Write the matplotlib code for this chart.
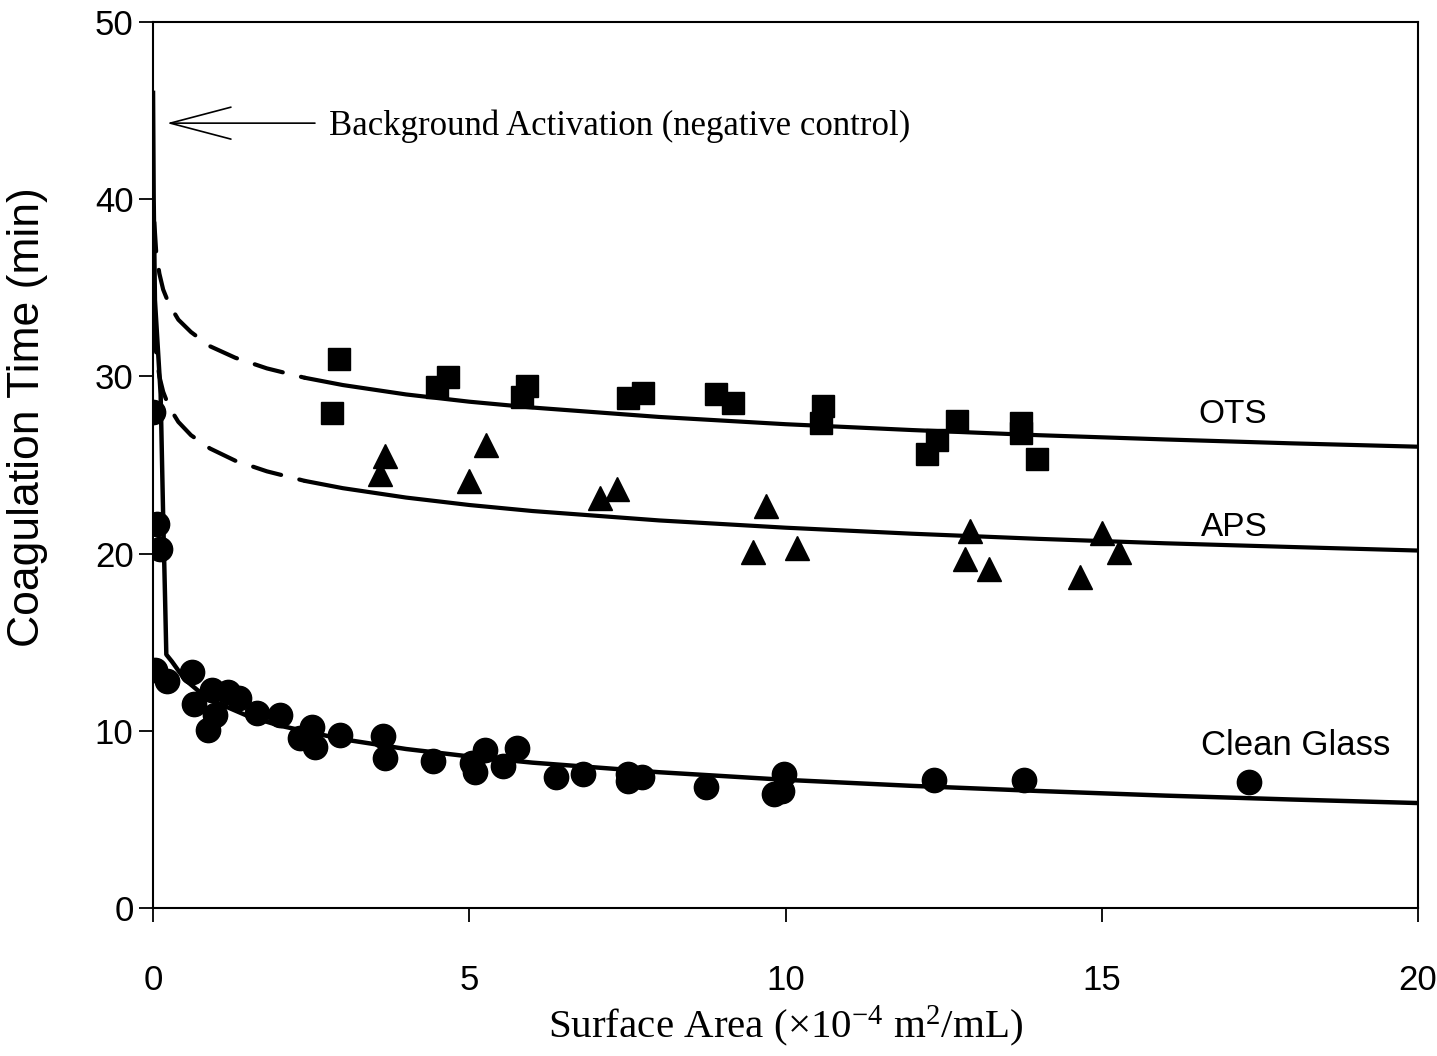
import numpy as np
import matplotlib
matplotlib.use("Agg")
import matplotlib.pyplot as plt

plt.rcParams['font.family'] = ['Liberation Sans', 'DejaVu Sans']
plt.rcParams['mathtext.fontset'] = 'custom'
plt.rcParams['mathtext.rm'] = 'Liberation Serif'
plt.rcParams['mathtext.it'] = 'Liberation Serif:italic'

# ---- data ----
ots_x = [2.94, 2.83, 4.66, 4.49, 5.91, 5.83, 7.74, 7.51, 8.90, 9.17, 10.59, 10.56,
         12.71, 12.39, 12.23, 13.73, 13.73, 13.97]
ots_y = [30.96, 27.95, 29.98, 29.42, 29.46, 28.85, 29.08, 28.77, 29.01, 28.52, 28.35, 27.35,
         27.50, 26.41, 25.62, 27.35, 26.79, 25.32]

aps_x = [3.67, 3.59, 5.26, 4.99, 7.06, 7.33, 9.69, 9.49, 10.18, 12.92, 12.83, 13.21,
         15.01, 15.27, 14.66]
aps_y = [25.52, 24.51, 26.10, 24.12, 23.16, 23.65, 22.71, 20.11, 20.30, 21.28, 19.68, 19.14,
         21.15, 20.11, 18.70]

glass_x = [0.00, 0.06, 0.11, 0.03, 0.22, 0.61, 0.64, 0.93, 0.87, 0.98, 1.19, 1.36, 1.64,
           2.01, 2.32, 2.52, 2.56, 2.96, 3.63, 3.67, 4.42, 5.25, 5.04, 5.09, 5.53, 5.75,
           6.37, 6.79, 7.51, 7.73, 7.51, 8.75, 9.97, 9.82, 9.94, 12.35, 13.77, 17.33]
glass_y = [27.98, 21.66, 20.25, 13.44, 12.78, 13.34, 11.52, 12.31, 10.06, 10.90, 12.16, 11.84,
           11.03, 10.90, 9.59, 10.21, 9.08, 9.77, 9.68, 8.46, 8.27, 8.93, 8.18, 7.70, 7.99,
           9.02, 7.39, 7.57, 7.56, 7.39, 7.14, 6.82, 7.56, 6.45, 6.58, 7.24, 7.24, 7.11]

# fitted curves
ots_fit_x = [0.02, 0.05, 0.1, 0.16, 0.25, 0.4, 0.6, 0.9, 1.3, 1.8, 2.4, 3, 4, 5, 6, 8,
             10, 12, 14, 16, 18, 20]
ots_fit_y = [38.7, 37.0, 35.8, 34.9, 34.1, 33.2, 32.5, 31.7, 31.05, 30.45, 29.92, 29.51,
             28.98, 28.57, 28.24, 27.71, 27.30, 26.97, 26.68, 26.44, 26.22, 26.03]

aps_fit_x = [0.02, 0.05, 0.1, 0.16, 0.25, 0.4, 0.6, 0.9, 1.3, 1.8, 2.4, 3, 4, 5, 6, 8,
             10, 12, 14, 16, 18, 20]
aps_fit_y = [33.0, 31.3, 30.0, 29.13, 28.3, 27.43, 26.68, 25.93, 25.24, 24.64, 24.10, 23.69,
             23.16, 22.74, 22.40, 21.87, 21.46, 21.12, 20.83, 20.58, 20.37, 20.17]

glass_fit_x = [0.0, 0.01, 0.03, 0.12, 0.16, 0.19, 0.21, 0.3, 0.5, 0.75, 1, 1.5, 2, 3, 4,
               5, 6, 8, 10, 12, 14, 16, 18, 20]
glass_fit_y = [46.0, 40.0, 34.3, 29.0, 22.1, 17.5, 14.3, 13.9, 12.9, 12.15, 11.6, 10.83,
               10.29, 9.52, 8.97, 8.55, 8.2, 7.66, 7.23, 6.89, 6.60, 6.34, 6.12, 5.92]

solid_from = 2.4  # fit drawn dashed below this surface area

xticks = [0, 5, 10, 15, 20]
yticks = [0, 10, 20, 30, 40, 50]

# ---- figure ----
fig = plt.figure(figsize=(14.37, 10.56), dpi=100)
ax = fig.add_axes([0.1065, 0.1402, 0.8803, 0.8390])

def split(xs, ys, thr):
    xs = np.asarray(xs); ys = np.asarray(ys)
    m1 = xs <= thr
    m2 = xs >= thr
    return xs[m1], ys[m1], xs[m2], ys[m2]

for fx, fy in [(ots_fit_x, ots_fit_y), (aps_fit_x, aps_fit_y)]:
    dx, dy, sx, sy = split(fx, fy, solid_from)
    ax.plot(dx, dy, color='black', lw=3, ls=(0, (7, 4.5)), solid_capstyle='round',
            dash_capstyle='round', zorder=3)
    ax.plot(sx, sy, color='black', lw=3, solid_capstyle='round', zorder=3)

ax.plot(glass_fit_x, glass_fit_y, color='black', lw=3.2, solid_joinstyle='round', zorder=3)

ax.plot(ots_x, ots_y, ls='none', marker='s', ms=15.5, color='black', zorder=4)
ax.plot(aps_x, aps_y, ls='none', marker='^', ms=17, color='black', zorder=4)
ax.plot(glass_x, glass_y, ls='none', marker='o', ms=17.5, color='black', zorder=4)

ax.set_xlim(0, 20)
ax.set_ylim(0, 50)
ax.set_xticks(xticks)
ax.set_yticks(yticks)
ax.tick_params(axis='both', direction='out', length=10, width=1.3, labelsize=25)
ax.tick_params(axis='x', pad=30)
ax.tick_params(axis='y', pad=4)
for s in ax.spines.values():
    s.set_linewidth(1.5)

ax.set_ylabel('Coagulation Time (min)', fontsize=32)
ax.yaxis.set_label_coords(-0.083, 0.554)
ax.set_xlabel(r'Surface Area ($\times$10$^{\mathrm{-4}}$ m$^{\mathrm{2}}$/mL)',
              fontsize=29.5, family='Liberation Serif', labelpad=5)

ax.text(17.07, 27.83, 'OTS', fontsize=24, ha='center', va='center')
ax.text(17.1, 21.45, 'APS', fontsize=24, ha='center', va='center')
ax.text(18.06, 9.15, 'Clean Glass', fontsize=25, ha='center', va='center')

ax.annotate('', xy=(0.22, 44.29), xytext=(2.56, 44.29),
            arrowprops=dict(arrowstyle='->,head_length=1.9,head_width=0.5', lw=1.2,
                            color='black', shrinkA=0, shrinkB=0, mutation_scale=23))
ax.text(2.78, 44.1, 'Background Activation (negative control)', fontsize=25,
        family='Liberation Serif', ha='left', va='center')

fig.savefig('out.png', dpi=100)
